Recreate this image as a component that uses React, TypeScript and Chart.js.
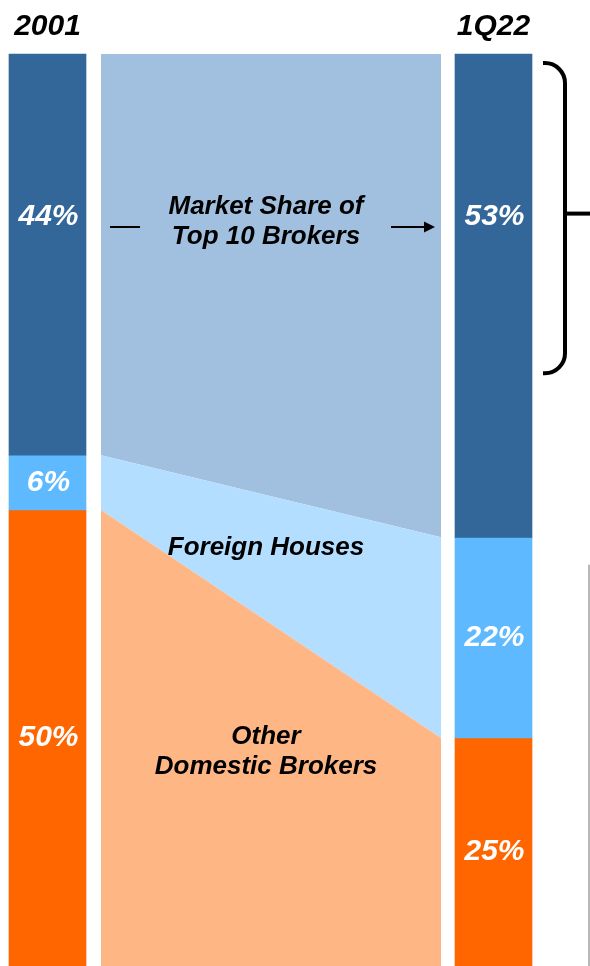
import { useEffect, useRef } from 'react';
import { Chart, registerables } from 'chart.js';

Chart.register(...registerables);

// ---- data ----
const periods = ['2001', '1Q22'];
const segmentNames = ['Market Share of Top 10 Brokers', 'Foreign Houses', 'Other Domestic Brokers'];
const top10Share = [44, 53];
const foreignShare = [6, 22];
const otherShare = [50, 25];
const bridgeLabels = [['Market Share of', 'Top 10 Brokers'], ['Foreign Houses'], ['Other', 'Domestic Brokers']];

// ---- styles ----
const barColors = ['#336699', '#5FB9FF', '#FF6600'];
const bridgeColors = ['#A1C0DF', '#B3DEFF', '#FFB685'];
const FONT = '"Liberation Sans", Arial, sans-serif';

const bridgePlugin = {
  id: 'bridge',
  beforeDatasetsDraw(chart: any) {
    const ctx = chart.ctx;
    const y = chart.scales.y;
    const m0 = chart.getDatasetMeta(0);
    const a = m0.data[0];
    const b = m0.data[1];
    const left = a.x + a.width / 2 + 15;
    const right = b.x - b.width / 2 - 14;
    const series = [top10Share, foreignShare, otherShare];
    let cumA = 0;
    let cumB = 0;
    ctx.save();
    series.forEach((s, k) => {
      const nA = cumA + s[0];
      const nB = cumB + s[1];
      ctx.beginPath();
      ctx.moveTo(left, y.getPixelForValue(cumA));
      ctx.lineTo(right, y.getPixelForValue(cumB));
      ctx.lineTo(right, y.getPixelForValue(nB));
      ctx.lineTo(left, y.getPixelForValue(nA));
      ctx.closePath();
      ctx.fillStyle = bridgeColors[k];
      ctx.fill();
      cumA = nA;
      cumB = nB;
    });
    ctx.restore();
  },
  afterDatasetsDraw(chart: any) {
    const ctx = chart.ctx;
    const y = chart.scales.y;
    const area = chart.chartArea;
    const m0 = chart.getDatasetMeta(0);
    const a = m0.data[0];
    const b = m0.data[1];
    const left = a.x + a.width / 2 + 15;
    const right = b.x - b.width / 2 - 14;
    const cx = (left + right) / 2 - 5;
    const topLabelY = area.top + 163;

    ctx.save();
    // value labels
    ctx.fillStyle = '#FFFFFF';
    ctx.font = `italic bold 30px ${FONT}`;
    ctx.textAlign = 'center';
    ctx.textBaseline = 'middle';
    chart.data.datasets.forEach((ds: any, d: number) => {
      const meta = chart.getDatasetMeta(d);
      meta.data.forEach((el: any, i: number) => {
        const top = Math.min(el.y, el.base);
        const bot = Math.max(el.y, el.base);
        const ly = d === 0 ? topLabelY : (top + bot) / 2;
        ctx.fillText(`${ds.data[i]}%`, el.x + 1, ly);
      });
    });

    // bridge labels
    ctx.fillStyle = '#000000';
    ctx.font = `italic bold 26px ${FONT}`;
    const lh = 30;
    const drawBlock = (lines: string[], centerY: number) => {
      const start = centerY - ((lines.length - 1) * lh) / 2;
      lines.forEach((t, i) => ctx.fillText(t, cx, start + i * lh));
    };
    drawBlock(bridgeLabels[0], topLabelY + 5);

    const tA = y.getPixelForValue(top10Share[0]);
    const tB = y.getPixelForValue(top10Share[1]);
    const fA = y.getPixelForValue(top10Share[0] + foreignShare[0]);
    const fB = y.getPixelForValue(top10Share[1] + foreignShare[1]);
    const frac = (cx - left) / (right - left);
    const fTop = tA + (tB - tA) * frac;
    const fBot = fA + (fB - fA) * frac;
    drawBlock(bridgeLabels[1], fTop + (fBot - fTop) * 0.42);
    drawBlock(bridgeLabels[2], fBot + (area.bottom - fBot) * 0.38);

    // arrow
    const ay = topLabelY + 10;
    ctx.strokeStyle = '#000000';
    ctx.lineWidth = 2;
    ctx.beginPath();
    ctx.moveTo(left + 9, ay);
    ctx.lineTo(left + 39, ay);
    ctx.moveTo(right - 50, ay);
    ctx.lineTo(right - 14, ay);
    ctx.stroke();
    ctx.beginPath();
    ctx.moveTo(right - 6, ay);
    ctx.lineTo(right - 17, ay - 5.5);
    ctx.lineTo(right - 17, ay + 5.5);
    ctx.closePath();
    ctx.fillStyle = '#000000';
    ctx.fill();

    // bracket
    const bx = b.x + b.width / 2;
    const xs = bx + 11;
    const vx = bx + 33;
    const yA = y.getPixelForValue(1);
    const yB = y.getPixelForValue(35);
    const r = 20;
    ctx.lineWidth = 4;
    ctx.beginPath();
    ctx.moveTo(xs, yA);
    ctx.arcTo(vx, yA, vx, yA + r, r);
    ctx.lineTo(vx, yB - r);
    ctx.arcTo(vx, yB, xs, yB, r);
    ctx.lineTo(xs, yB);
    ctx.stroke();
    const ym = y.getPixelForValue(17.5);
    ctx.beginPath();
    ctx.moveTo(vx, ym);
    ctx.lineTo(chart.width, ym);
    ctx.stroke();

    // thin grey rule at right
    ctx.strokeStyle = '#A0A0A0';
    ctx.lineWidth = 1.5;
    ctx.beginPath();
    ctx.moveTo(chart.width - 1, y.getPixelForValue(56));
    ctx.lineTo(chart.width - 1, area.bottom);
    ctx.stroke();
    ctx.restore();
  },
};

export default function App() {
  const ref = useRef<HTMLCanvasElement>(null);
  useEffect(() => {
    if (!ref.current) return;
    const series = [top10Share, foreignShare, otherShare];
    const chart = new Chart(ref.current, {
      type: 'bar',
      data: {
        labels: periods,
        datasets: series.map((s, k) => ({
          label: segmentNames[k],
          data: s,
          backgroundColor: barColors[k],
          borderWidth: 0,
          barThickness: 77,
          clip: false as any,
        })),
      },
      options: {
        responsive: false,
        animation: false,
        layout: { padding: { left: 47.5, right: 96.5, top: 0, bottom: 0 } },
        plugins: { legend: { display: false }, tooltip: { enabled: false } },
        scales: {
          x: {
            type: 'category',
            position: 'top',
            stacked: true,
            offset: false,
            grid: { display: false, drawTicks: false },
            border: { display: false },
            ticks: {
              padding: 12,
              color: '#000000',
              font: { family: FONT, size: 30, weight: 'bold', style: 'italic', lineHeight: 1 },
            },
          },
          y: {
            type: 'linear',
            stacked: true,
            reverse: true,
            min: 0,
            max: 100,
            display: false,
          },
        },
      },
      plugins: [bridgePlugin],
    });
    return () => chart.destroy();
  }, []);
  return (
    <div style={{ position: 'absolute', left: 0, top: 0, width: 590, height: 966, background: '#fff' }}>
      <canvas ref={ref} width={590} height={966} style={{ display: 'block', width: 590, height: 966 }} />
    </div>
  );
}
